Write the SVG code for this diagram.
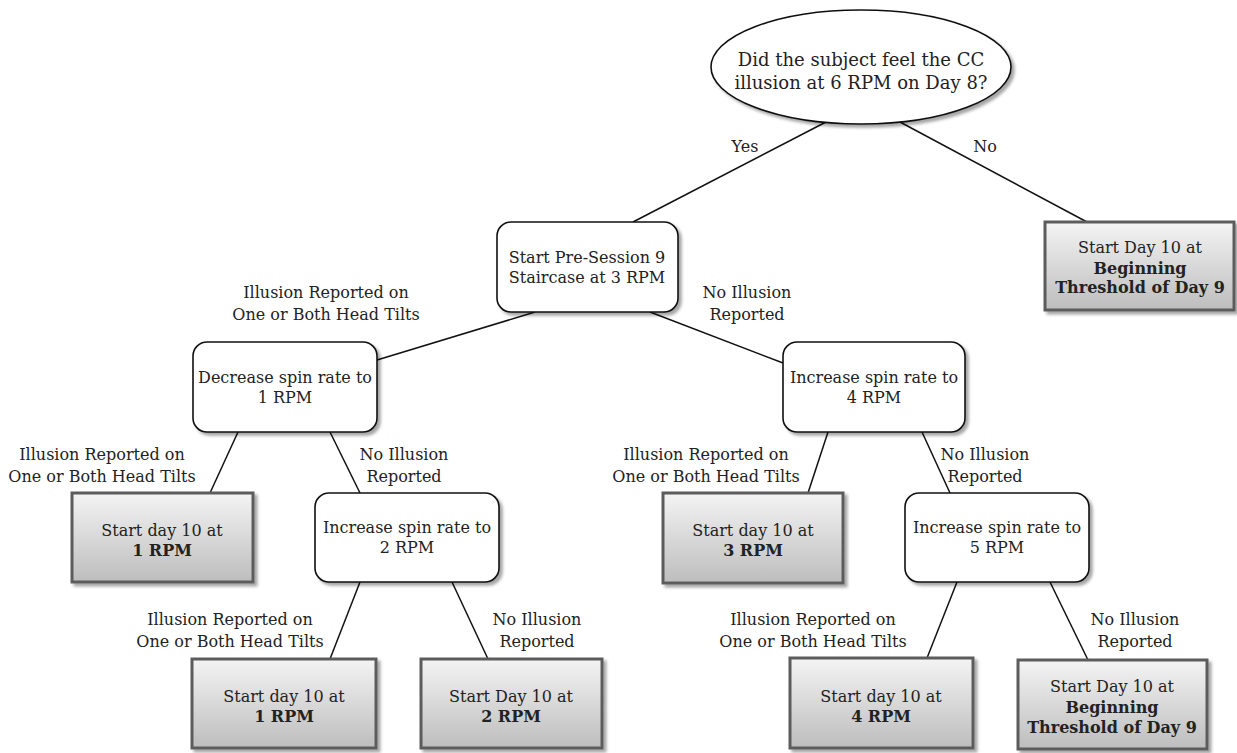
<svg xmlns="http://www.w3.org/2000/svg" width="1237" height="753" viewBox="0 0 1237 753">
<defs>
<linearGradient id="g" x1="0" y1="0" x2="0" y2="1">
<stop offset="0" stop-color="#f4f4f4"/>
<stop offset="1" stop-color="#bdbdbd"/>
</linearGradient>
<filter id="sh" x="-10%" y="-10%" width="130%" height="140%">
<feDropShadow dx="3" dy="3" stdDeviation="1.5" flood-color="#000" flood-opacity="0.35"/>
</filter>
<style>
.t{font-family:"DejaVu Serif","Liberation Serif",serif;font-size:16px;fill:#222;text-anchor:middle}
.b{font-weight:bold}
.e{font-size:18px}
.r{fill:#fff;stroke:#111;stroke-width:1.6;filter:url(#sh)}
.gb{fill:url(#g);stroke:#5c5c5c;stroke-width:3;filter:url(#sh)}
.ln{stroke:#111;stroke-width:1.5;fill:none}
</style>
</defs>
<g id="connectors">
<line class="ln" x1="826" y1="122" x2="633" y2="222"/>
<line class="ln" x1="900" y1="122" x2="1087" y2="222"/>
<line class="ln" x1="535" y1="312" x2="377" y2="360"/>
<line class="ln" x1="650" y1="312" x2="783" y2="363"/>
<line class="ln" x1="238" y1="432" x2="210" y2="493"/>
<line class="ln" x1="330" y1="432" x2="360" y2="493"/>
<line class="ln" x1="828" y1="432" x2="808" y2="493"/>
<line class="ln" x1="922" y1="432" x2="950" y2="493"/>
<line class="ln" x1="360" y1="582" x2="330" y2="659"/>
<line class="ln" x1="452" y1="582" x2="488" y2="659"/>
<line class="ln" x1="957" y1="582" x2="927" y2="658"/>
<line class="ln" x1="1050" y1="582" x2="1088" y2="660"/>
</g>
<g id="labels">
<text class="t" x="745" y="152">Yes</text>
<text class="t" x="985" y="152">No</text>
<text class="t" x="326" y="298">Illusion Reported on</text>
<text class="t" x="326" y="320">One or Both Head Tilts</text>
<text class="t" x="747" y="298">No Illusion</text>
<text class="t" x="747" y="320">Reported</text>
<text class="t" x="102" y="460">Illusion Reported on</text>
<text class="t" x="102" y="482">One or Both Head Tilts</text>
<text class="t" x="404" y="460">No Illusion</text>
<text class="t" x="404" y="482">Reported</text>
<text class="t" x="706" y="460">Illusion Reported on</text>
<text class="t" x="706" y="482">One or Both Head Tilts</text>
<text class="t" x="985" y="460">No Illusion</text>
<text class="t" x="985" y="482">Reported</text>
<text class="t" x="230" y="625">Illusion Reported on</text>
<text class="t" x="230" y="647">One or Both Head Tilts</text>
<text class="t" x="537" y="625">No Illusion</text>
<text class="t" x="537" y="647">Reported</text>
<text class="t" x="813" y="625">Illusion Reported on</text>
<text class="t" x="813" y="647">One or Both Head Tilts</text>
<text class="t" x="1135" y="625">No Illusion</text>
<text class="t" x="1135" y="647">Reported</text>
</g>
<g id="n-question">
<ellipse class="r" cx="861" cy="67" rx="150" ry="57"/>
<text class="t e" x="861" y="66">Did the subject feel the CC</text>
<text class="t e" x="861" y="89">illusion at 6 RPM on Day 8?</text>
</g>
<g id="n-presession">
<rect class="r" x="497" y="222" width="181" height="90" rx="14"/>
<text class="t" x="587" y="263">Start Pre-Session 9</text>
<text class="t" x="587" y="283">Staircase at 3 RPM</text>
</g>
<g id="n-top-threshold">
<rect class="gb" x="1045" y="222" width="189" height="88"/>
<text class="t" x="1140" y="253">Start Day 10 at</text>
<text class="t b" x="1140" y="274">Beginning</text>
<text class="t b" x="1140" y="293">Threshold of Day 9</text>
</g>
<g id="n-decrease1">
<rect class="r" x="193" y="342" width="184" height="90" rx="14"/>
<text class="t" x="285" y="383">Decrease spin rate to</text>
<text class="t" x="285" y="403">1 RPM</text>
</g>
<g id="n-increase4">
<rect class="r" x="783" y="342" width="182" height="90" rx="14"/>
<text class="t" x="874" y="383">Increase spin rate to</text>
<text class="t" x="874" y="403">4 RPM</text>
</g>
<g id="n-start1a">
<rect class="gb" x="72" y="493" width="181" height="89"/>
<text class="t" x="162" y="536">Start day 10 at</text>
<text class="t b" x="162" y="556">1 RPM</text>
</g>
<g id="n-increase2">
<rect class="r" x="315" y="493" width="184" height="89" rx="14"/>
<text class="t" x="407" y="533">Increase spin rate to</text>
<text class="t" x="407" y="553">2 RPM</text>
</g>
<g id="n-start3">
<rect class="gb" x="663" y="493" width="180" height="90"/>
<text class="t" x="753" y="536">Start day 10 at</text>
<text class="t b" x="753" y="556">3 RPM</text>
</g>
<g id="n-increase5">
<rect class="r" x="905" y="493" width="184" height="89" rx="14"/>
<text class="t" x="997" y="533">Increase spin rate to</text>
<text class="t" x="997" y="553">5 RPM</text>
</g>
<g id="n-start1b">
<rect class="gb" x="192" y="659" width="184" height="89"/>
<text class="t" x="284" y="702">Start day 10 at</text>
<text class="t b" x="284" y="722">1 RPM</text>
</g>
<g id="n-start2">
<rect class="gb" x="421" y="659" width="181" height="89"/>
<text class="t" x="511" y="702">Start Day 10 at</text>
<text class="t b" x="511" y="722">2 RPM</text>
</g>
<g id="n-start4">
<rect class="gb" x="790" y="658" width="183" height="90"/>
<text class="t" x="881" y="702">Start day 10 at</text>
<text class="t b" x="881" y="722">4 RPM</text>
</g>
<g id="n-bottom-threshold">
<rect class="gb" x="1018" y="660" width="189" height="89"/>
<text class="t" x="1112" y="692">Start Day 10 at</text>
<text class="t b" x="1112" y="713">Beginning</text>
<text class="t b" x="1112" y="733">Threshold of Day 9</text>
</g>
</svg>
